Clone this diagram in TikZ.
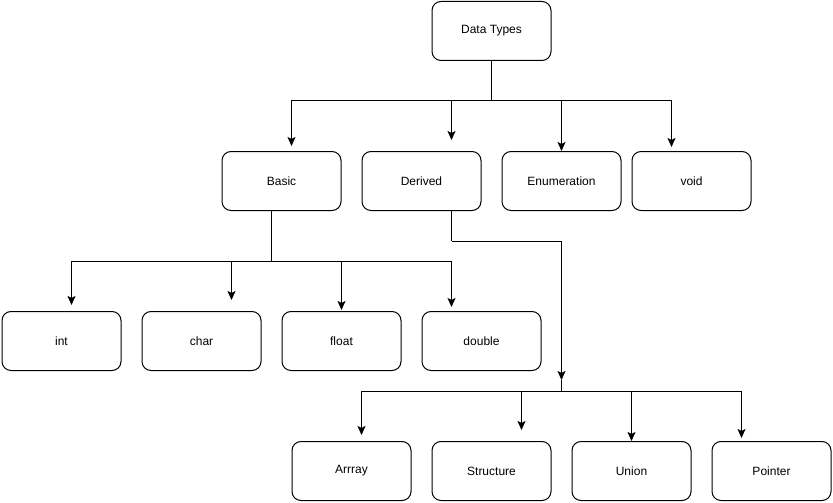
\documentclass[tikz,border=0pt]{standalone}
\usepackage{fontspec}
\setmainfont{Liberation Sans}
\usepackage{tikz}
\usetikzlibrary{arrows}
\usetikzlibrary{arrows.meta}
\usetikzlibrary{positioning}

\begin{document}
\begin{tikzpicture}[x=1pt, y=-1pt, node distance=140pt, line width=1pt,
	>={Stealth[width=8pt,length=9pt,inset=2pt]},
    dtype/.style = {rectangle, rounded corners=9pt, draw=black,
                   minimum width=119pt, minimum height=59pt,
                   text centered, font=\fontsize{12}{14}\selectfont},
    hv/.style = {to path={-| (\tikztotarget)}}]
  \useasboundingbox (0,0) rectangle (833,503);

  \node (types) [dtype] at (491.5,31) {Data Types};

  \node (basic) [dtype] at (281.5,181) {Basic};
  \node (derived) [dtype, right of=basic] {Derived};
  \node (enum) [dtype, right of=derived] {Enumeration};
  \node (void) [dtype, right of=enum, xshift=-10pt] {void};

  \node (int) [dtype] at (61.5,341) {int};
  \node (char) [dtype, right of=int] {char};
  \node (float) [dtype, right of=char] {float};
  \node (double) [dtype, right of=float] {double};

  \node (array) [dtype] at (351.5,471) {Arrray};
  \node (struct) [dtype, right of=array] {Structure};
  \node (union) [dtype, right of=struct] {Union};
  \node (pointer) [dtype, right of=union] {Pointer};

  % bends and arrow ends
  \coordinate (typesj) at (491.5,100);
  \coordinate (tobasic) at (291.5,146);
  \coordinate (toderived) at (451.5,140);
  \coordinate (toenum) at (561.5,151);
  \coordinate (tovoid) at (671.5,147);

  \coordinate (basicj) at (271.5,261);
  \coordinate (toint) at (71.5,305);
  \coordinate (tochar) at (231.5,300);
  \coordinate (tofloat) at (341.5,310);
  \coordinate (todouble) at (451.5,307);

  \coordinate (derivedj) at (451.5,241);
  \coordinate (todj) at (561.5,380);
  \coordinate (dj) at (561.5,391.5);
  \coordinate (toarray) at (361.5,435);
  \coordinate (tostruct) at (521.5,430);
  \coordinate (tounion) at (631.5,441);
  \coordinate (topointer) at (741.5,438);

  \path[-]
    (types.south) edge (typesj)
    (basic.south -| basicj) edge (basicj)
    (derived.south -| derivedj) edge (derivedj)
    (todj) edge (dj);

  \path[->]
    (typesj) edge[hv] (tobasic)
    (typesj) edge[hv] (toderived)
    (typesj) edge[hv] (toenum)
    (typesj) edge[hv] (tovoid)
    (basicj) edge[hv] (toint)
    (basicj) edge[hv] (tochar)
    (basicj) edge[hv] (tofloat)
    (basicj) edge[hv] (todouble)
    (derivedj) edge[hv] (todj)
    (dj) edge[hv] (toarray)
    (dj) edge[hv] (tostruct)
    (dj) edge[hv] (tounion)
    (dj) edge[hv] (topointer);
\end{tikzpicture}
\end{document}
